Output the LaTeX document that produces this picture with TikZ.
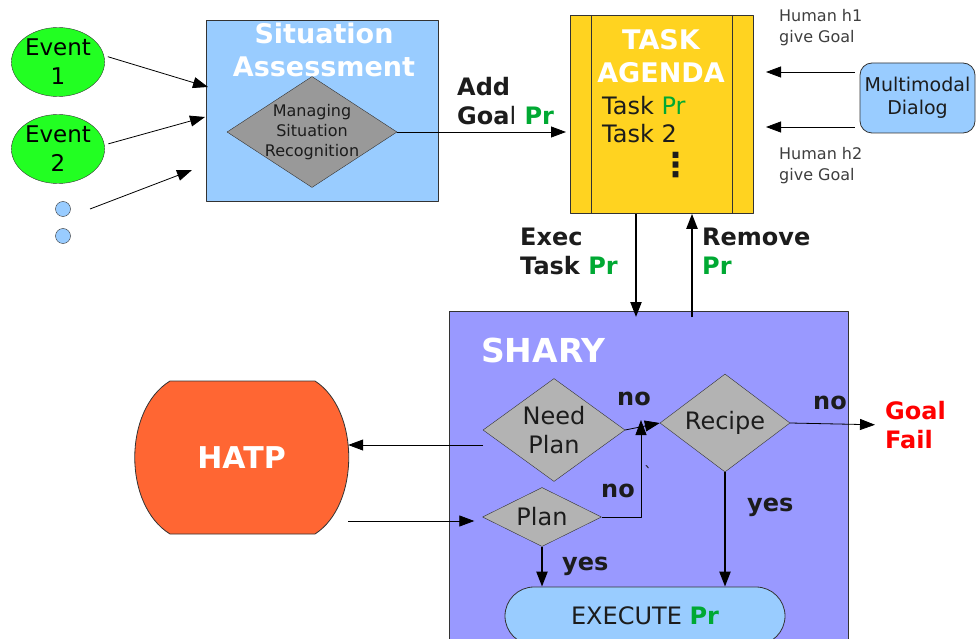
\documentclass[tikz,border=0pt]{standalone}
\usepackage{fontspec}
\setmainfont{DejaVu Sans}
\usetikzlibrary{arrows.meta,shapes.geometric,positioning}
\definecolor{skyb}{HTML}{99CCFF}
\definecolor{evgreen}{HTML}{22FF22}
\definecolor{agenda}{HTML}{FFD320}
\definecolor{sharyc}{HTML}{9999FF}
\definecolor{hatpc}{HTML}{FF6633}
\definecolor{prgreen}{HTML}{00A933}
\definecolor{dgray}{HTML}{999999}
\definecolor{lgray}{HTML}{B3B3B3}
\definecolor{darktxt}{HTML}{1C1C1C}
\newcommand{\pr}{\textcolor{prgreen}{\textbf{Pr}}}
\begin{document}
\begin{tikzpicture}[x=1pt,y=-1pt,>={Triangle[length=15pt,width=11pt]},line join=round,
	box/.style={draw=black!80,line width=0.8pt,inner sep=0pt},
	evt/.style={ellipse,draw=black!80,fill=evgreen,minimum width=91pt,minimum height=69pt,inner sep=0pt,align=center,font=\fontsize{23}{29}\selectfont},
	smalldot/.style={circle,draw=black!80,fill=skyb,minimum size=15pt,inner sep=0pt},
	dia/.style={diamond,draw=black!80,fill=lgray,inner sep=0pt,align=center,text=darktxt,font=\fontsize{24}{29}\selectfont},
	ttl/.style={text=white,inner sep=0pt,align=center,font=\bfseries\fontsize{27}{33}\selectfont},
	lbl/.style={text=darktxt,inner sep=0pt,align=left,font=\bfseries\fontsize{24}{29}\selectfont},
	hum/.style={text=darktxt!85,inner sep=0pt,align=left,font=\fontsize{16}{21}\selectfont},
	ln/.style={line width=0.8pt},
	thk/.style={line width=2.2pt}]
	\useasboundingbox (0,0) rectangle (977,639);
	\path (208,87) coordinate (e1t)
	(205,117) coordinate (e2t)
	(90,209) coordinate (e3s)
	(192,170) coordinate (e3t)
	(766,72) coordinate (h1)
	(766,127) coordinate (h2)
	(636,317) coordinate (ex)
	(692,317) coordinate (rm)
	(641,420) coordinate (up)
	(483,445) coordinate (np2h)
	(348,521) coordinate (h2p);
	% left column
	\node[evt] (ev1) at (58,62) {Event\\1};
	\node[evt] (ev2) at (58,149) {Event\\2};
	\node[smalldot] (d1) at (63,209) {};
	\node[smalldot] (d2) at (63,236) {};
	% situation assessment
	\node[box,fill=skyb,minimum width=232pt,minimum height=181pt,anchor=north west] (sa) at (206,20) {};
	\node[ttl] (satl) at (324,50) {Situation\\Assessment};
	\node[dia,fill=dgray,minimum width=170pt,minimum height=111pt] (msr) at (312,132) {};
	\node[text=darktxt,inner sep=0pt,align=center,font=\fontsize{16}{20}\selectfont] (msrt) at (312,132) {Managing\\Situation\\Recognition};
	\node[lbl,anchor=west] (addl) at (457,101) {Add\\Goa{\mdseries l} \pr};
	% task agenda
	\node[box,fill=agenda,minimum width=183pt,minimum height=198pt,anchor=north west] (ta) at (570,15) {};
	\draw[box] ([xshift=21pt]ta.north west) -- ([xshift=21pt]ta.south west)
	([xshift=-21pt]ta.north east) -- ([xshift=-21pt]ta.south east);
	\node[ttl] (tatl) at (661,56) {TASK\\AGENDA};
	\node[text=darktxt,inner sep=0pt,align=left,anchor=west,font=\fontsize{24}{28}\selectfont] (tasks) at (602,120) {Task \textcolor{prgreen}{Pr}\\Task 2};
	\node[text=darktxt,inner sep=0pt,font=\bfseries\fontsize{33}{36}\selectfont] (vd) at (676,165) {⋮};
	\node[box,rounded corners=12pt,fill=skyb,minimum width=115pt,minimum height=70pt,align=center,text=darktxt,font=\fontsize{19}{23}\selectfont] (mmd) at (917.5,98) {Multimodal\\Dialog};
	\node[hum,anchor=west] (hh1) at (779,28) {Human h1\\give Goal};
	\node[hum,anchor=west] (hh2) at (779,166) {Human h2\\give Goal};
	\node[lbl,anchor=west] (exl) at (520,251) {Exec\\Task \pr};
	\node[lbl,anchor=west] (rml) at (702,251) {Remove\\\pr};
	% shary
	\node[box,fill=sharyc,minimum width=399pt,minimum height=340pt,anchor=north west] (sh) at (449,311) {};
	\node[ttl,anchor=west,font=\bfseries\fontsize{33}{38}\selectfont] (shtl) at (481,350) {SHARY};
	\node[dia,shape aspect=1.4,minimum width=142pt,minimum height=103pt] (np) at (554,430) {Need\\Plan};
	\node[dia,shape aspect=1.33,minimum width=130pt,minimum height=98pt] (rc) at (725,423) {Recipe};
	\node[dia,shape aspect=2,minimum width=119pt,minimum height=59pt] (pl) at (542,517) {Plan};
	\node[box,fill=skyb,rounded corners=29pt,minimum width=280pt,minimum height=58pt,text=darktxt,font=\fontsize{24}{29}\selectfont] (exn) at (645,616) {EXECUTE \pr};
	\node[lbl,text=red,anchor=west] (gf) at (885,425) {Goal\\Fail};
	\node[lbl,anchor=base west] (no1) at (617,405) {no};
	\node[lbl,anchor=base west] (no2) at (601,497) {no};
	\node[lbl,anchor=base west] (no3) at (813,409) {no};
	\node[lbl,anchor=base west] (yes1) at (747,511) {yes};
	\node[lbl,anchor=base west] (yes2) at (562,570) {yes};
	\node[text=darktxt,inner sep=0pt,font=\fontsize{16}{20}\selectfont] (tick) at (648,472) {ˋ};
	% hatp
	\draw[box,fill=hatpc] (170,381) -- (315,381) .. controls (360,410) and (360,505) .. (315,534)
	-- (170,534) .. controls (123,505) and (123,410) .. cycle;
	\node[ttl,minimum width=213pt,minimum height=153pt,font=\bfseries\fontsize{30}{36}\selectfont] (hatp) at (241.5,457.5) {HATP};
	% connectors
	\draw[->,ln,shorten <=4pt] (ev1.8) -- (e1t);
	\draw[->,ln,shorten <=4pt] (ev2.5) -- (e2t);
	\draw[->,ln] (e3s) -- (e3t);
	\draw[->,ln,shorten >=4pt] (msr.east) -- (msr.east -| ta.west);
	\draw[->,ln,shorten <=5pt] (mmd.west |- h1) -- (h1);
	\draw[->,ln,shorten <=5pt] (mmd.west |- h2) -- (h2);
	\draw[->,thk] (ta.south -| ex) -- (ex);
	\draw[->,thk] (rm) -- (ta.south -| rm);
	\draw[->,ln] (np.east) -- (rc.west);
	\draw[->,ln] (pl.east) -- (pl.east -| up) -- (up);
	\draw[->,ln,shorten >=10pt] (rc.east) -- (gf.west);
	\draw[->,thk] (rc.south) -- (rc.south |- exn.north);
	\draw[->,thk] (pl.south) -- (pl.south |- exn.north);
	\draw[->,ln] (np2h) -- (hatp.east |- np2h);
	\draw[->,ln,shorten >=8pt] (h2p) -- (pl.west |- h2p);
\end{tikzpicture}
\end{document}
